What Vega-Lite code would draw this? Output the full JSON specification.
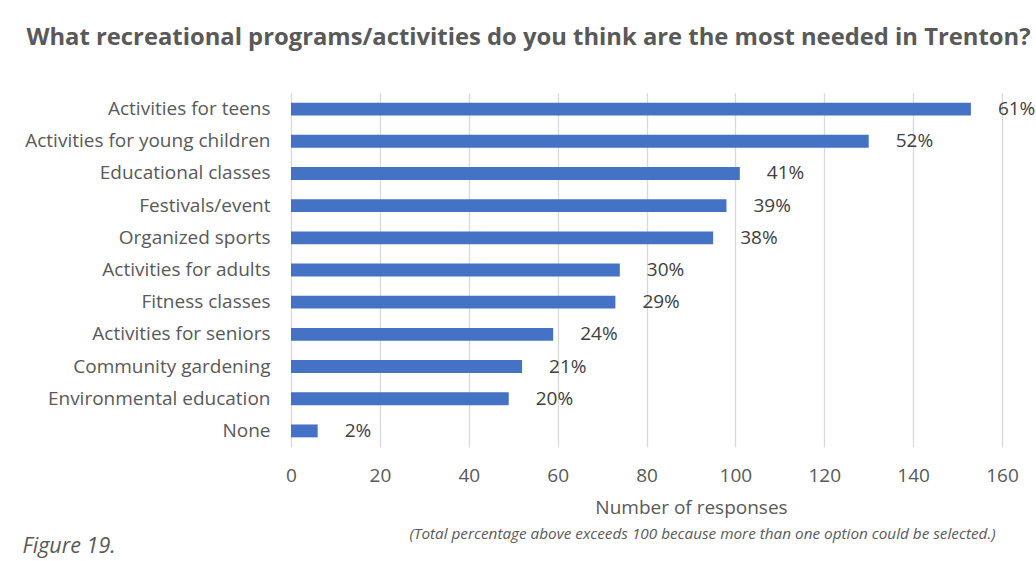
{
  "$schema": "https://vega.github.io/schema/vega-lite/v6.json",
  "autosize": {"type": "none"},
  "width": 711,
  "height": 354,
  "padding": {"left": 291, "top": 93, "right": 34, "bottom": 114},
  "background": "white",
  "config": {
    "view": {"stroke": null},
    "font": "Open Sans",
    "axis": {"labelFont": "Open Sans", "titleFont": "Open Sans", "labelColor": "#595959", "titleColor": "#595959"}
  },
  "title": {
    "text": "What recreational programs/activities do you think are the most needed in Trenton?",
    "font": "Open Sans",
    "fontSize": 23.8,
    "fontWeight": "bold",
    "color": "#595959",
    "anchor": "middle",
    "dx": -118,
    "baseline": "alphabetic",
    "offset": 24
  },
  "data": {
    "values": [
      {"activity": "Activities for teens", "responses": 153, "pct": "61%"},
      {"activity": "Activities for young children", "responses": 130, "pct": "52%"},
      {"activity": "Educational classes", "responses": 101, "pct": "41%"},
      {"activity": "Festivals/event", "responses": 98, "pct": "39%"},
      {"activity": "Organized sports", "responses": 95, "pct": "38%"},
      {"activity": "Activities for adults", "responses": 74, "pct": "30%"},
      {"activity": "Fitness classes", "responses": 73, "pct": "29%"},
      {"activity": "Activities for seniors", "responses": 59, "pct": "24%"},
      {"activity": "Community gardening", "responses": 52, "pct": "21%"},
      {"activity": "Environmental education", "responses": 49, "pct": "20%"},
      {"activity": "None", "responses": 6, "pct": "2%"}
    ]
  },
  "resolve": {"scale": {"x": "independent"}, "axis": {"x": "independent"}},
  "layer": [
    {
      "layer": [
        {
          "mark": {"type": "bar", "color": "#4472C4"},
          "encoding": {
            "y": {
              "field": "activity",
              "type": "nominal",
              "sort": null,
              "scale": {"paddingInner": 0.6, "paddingOuter": 0.3},
              "axis": {
                "title": "Figure 19.",
                "titleAngle": 0,
                "titleAlign": "left",
                "titleBaseline": "alphabetic",
                "titleX": -269,
                "titleY": 459,
                "titleFontSize": 21.5,
                "titleFontStyle": "italic",
                "titleFontWeight": "normal",
                "titleColor": "#595959",
                "domain": false,
                "ticks": false,
                "labelFontSize": 19,
                "labelLimit": 0,
                "labelPadding": 21
              }
            },
            "x": {
              "field": "responses",
              "type": "quantitative",
              "scale": {"domain": [0, 160]},
              "axis": {
                "values": [0, 20, 40, 60, 80, 100, 120, 140, 160],
                "title": "Number of responses",
                "titleFontSize": 19,
                "titleFontWeight": "normal",
                "titleX": 400,
                "titleY": 66,
                "titleBaseline": "alphabetic",
                "domain": false,
                "ticks": false,
                "grid": true,
                "gridColor": "#d9d9d9",
                "gridWidth": 1.3,
                "labelFlush": false,
                "labelFontSize": 19,
                "labelPadding": 19
              }
            }
          }
        },
        {
          "mark": {"type": "text", "align": "left", "baseline": "middle", "dx": 27, "fontSize": 19, "color": "#404040"},
          "encoding": {
            "y": {"field": "activity", "type": "nominal", "sort": null},
            "x": {"field": "responses", "type": "quantitative"},
            "text": {"field": "pct"}
          }
        }
      ]
    },
    {
      "mark": {"type": "bar", "opacity": 0},
      "encoding": {
        "y": {"field": "activity", "type": "nominal", "sort": null},
        "x": {
          "field": "responses",
          "type": "quantitative",
          "scale": {"domain": [0, 160]},
          "axis": {
            "orient": "bottom",
            "title": "(Total percentage above exceeds 100 because more than one option could be selected.)",
            "titleFontSize": 15.3,
            "titleFontStyle": "italic",
            "titleFontWeight": "normal",
            "titleX": 411,
            "titleY": 91,
            "titleBaseline": "alphabetic",
            "labels": false,
            "ticks": false,
            "domain": false,
            "grid": false
          }
        }
      }
    }
  ]
}
